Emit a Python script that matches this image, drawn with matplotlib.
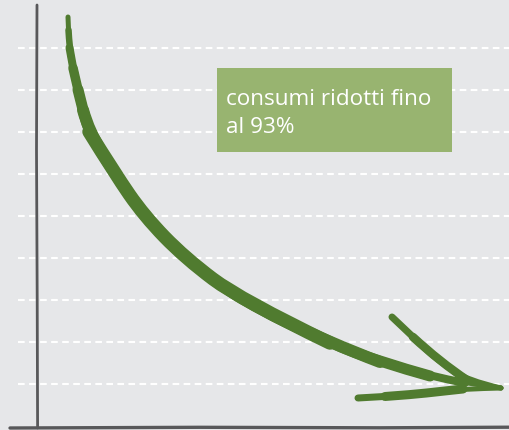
import matplotlib.pyplot as plt
from matplotlib.path import Path
from matplotlib.patches import PathPatch

# Brush-stroke curve (chart units: x to the right, y downward like the picture)
curve_x = [68, 68.5, 69.5, 73, 78, 83, 89, 115, 144, 185, 241, 330, 380, 430, 465, 501]
curve_y = [17, 30, 47.7, 68, 89.7, 110, 131.7, 173.7, 215.7, 258, 300, 343, 362, 376, 383, 388]
# (first index, last index, width in px) - stacked strokes give the brush taper
curve_layers = [(0, 15, 3), (0, 15, 5), (1, 14, 6.5), (2, 14, 8), (3, 13, 9.5),
                (4, 13, 11), (5, 12, 12), (6, 11, 13.5)]

# Arrow head barbs
barb_up_x = [392, 413, 440, 467, 501]
barb_up_y = [317, 337, 362, 380, 388]
barb_up_layers = [(0, 4, 3), (0, 4, 5), (0, 3, 7), (1, 3, 8.5)]
barb_low_x = [358, 385, 413, 440, 463, 501]
barb_low_y = [398, 396.5, 394.5, 391.5, 389, 388]
barb_low_layers = [(0, 5, 3), (0, 5, 5), (0, 4, 7), (1, 4, 9)]

# Dashed guide lines
grid_y = [47.7, 89.7, 131.7, 173.7, 215.7, 258, 300, 342, 384]

label_lines = ["consumi ridotti fino", "al 93%"]

BG = '#e6e7e9'
GREEN = '#507b2f'
BOX = '#98b470'
AXIS = '#58585a'
PX = 0.72  # points per pixel at dpi 100


def smooth_path(xs, ys):
    # quadratic bezier chain using the points as control points
    pts = list(zip(xs, ys))
    verts = [pts[0]]
    codes = [Path.MOVETO]
    if len(pts) == 2:
        verts.append(pts[1])
        codes.append(Path.LINETO)
        return Path(verts, codes)
    for i in range(1, len(pts) - 1):
        if i < len(pts) - 2:
            end = ((pts[i][0] + pts[i + 1][0]) / 2, (pts[i][1] + pts[i + 1][1]) / 2)
        else:
            end = pts[i + 1]
        verts += [pts[i], end]
        codes += [Path.CURVE3, Path.CURVE3]
    return Path(verts, codes)


def brush(ax, xs, ys, layers):
    for a, b, w in layers:
        patch = PathPatch(smooth_path(xs[a:b + 1], ys[a:b + 1]), facecolor='none',
                          edgecolor=GREEN, lw=w * PX, capstyle='round', joinstyle='round',
                          zorder=3)
        ax.add_patch(patch)


def main():
    fig = plt.figure(figsize=(5.09, 4.30), dpi=100, facecolor=BG)
    ax = fig.add_axes([0, 0, 1, 1])
    ax.set_facecolor(BG)
    ax.set_xlim(0, 509)
    ax.set_ylim(430, 0)
    ax.axis('off')

    # white dashed lines
    for y in grid_y:
        ax.plot([18, 509], [y, y], color='white', lw=1.5, ls=(0, (3.2, 2.1)), zorder=1)

    # axes drawn by hand
    ax.plot([37, 36.5, 37.2, 37.6], [5, 150, 300, 428], color=AXIS, lw=2.0,
            solid_capstyle='round', zorder=2)
    ax.plot([10, 200, 380, 509], [428, 427.3, 427.8, 427.2], color=AXIS, lw=2.4,
            solid_capstyle='round', zorder=2)

    # green brush stroke with arrow head
    brush(ax, curve_x, curve_y, curve_layers)
    brush(ax, barb_up_x, barb_up_y, barb_up_layers)
    brush(ax, barb_low_x, barb_low_y, barb_low_layers)

    # label box
    ax.add_patch(plt.Rectangle((216.7, 68.3), 235, 83.4, facecolor=BOX, edgecolor='none', zorder=4))
    for i, line in enumerate(label_lines):
        ax.text(226, 105 + i * 28.3, line, color='white', fontsize=16.2, family='Open Sans',
                va='baseline', ha='left', zorder=5)

    fig.savefig('out.png', dpi=100, facecolor=BG)


if __name__ == "__main__":
    main()
